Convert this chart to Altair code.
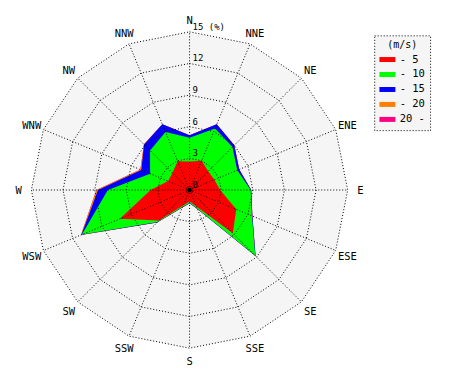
import altair as alt
import pandas as pd

# ---- data ----
directions = ["N", "NNE", "NE", "ENE", "E", "ESE", "SE", "SSE",
              "S", "SSW", "SW", "WSW", "W", "WNW", "NW", "NNW"]
speed_classes = ["- 5", "- 10", "- 15", "- 20", "20 -"]
class_colors = ["#ff0000", "#00ff00", "#0000ff", "#ff8000", "#ff0080"]

# frequency (%) of each speed class per direction
freq_0_5   = [2.7, 3.0, 2.5, 2.55, 2.9, 4.8, 5.8, 1.7, 1.1, 1.6, 4.1, 7.15, 3.7, 2.2, 2.3, 2.96]
freq_5_10  = [2.25, 3.3, 3.25, 2.35, 2.9, 1.6, 3.0, 0.2, 0.1, 0.15, 0.2, 3.9, 4.05, 1.85, 3.0, 2.99]
freq_10_15 = [0.25, 0.44, 0.25, 0.2, 0.05, 0.05, 0.05, 0.05, 0.05, 0.05, 0.05, 0.05, 0.93, 0.9, 0.8, 0.79]
freq_15_20 = [0, 0, 0, 0, 0, 0, 0, 0, 0, 0, 0.02, 0.05, 0.16, 0.1, 0.02, 0.01]
freq_20_up = [0, 0, 0, 0, 0, 0, 0, 0, 0, 0, 0, 0, 0, 0, 0, 0]

ring_levels = [3, 6, 9, 12, 15]
ring_texts = ["3", "6", "9", "12", "15 (%)"]
label_radius = 16.2

FONT = "DejaVu Sans Mono"

# ---- tables ----
rose_rows = []
cum = [0.0] * 16
for cls, freq in zip(speed_classes, [freq_0_5, freq_5_10, freq_10_15, freq_15_20, freq_20_up]):
    cum = [a + b for a, b in zip(cum, freq)]
    for k in range(17):
        rose_rows.append({"cls": cls, "k": k, "dir": k % 16, "r": cum[k % 16]})
rose = pd.DataFrame(rose_rows)

ring_rows = []
for lv in ring_levels:
    for k in range(17):
        ring_rows.append({"level": lv, "k": k, "dir": k % 16, "r": lv})
rings = pd.DataFrame(ring_rows)

spokes = pd.DataFrame({"dir": list(range(16)), "r": [ring_levels[-1]] * 16})
dir_labels = pd.DataFrame({"dir": list(range(16)), "name": directions,
                           "r": [label_radius] * 16})
ring_lab = pd.DataFrame({"dir": [0] * 6, "r": [0] + ring_levels,
                         "text": ["0"] + ring_texts})
center = pd.DataFrame({"dir": [0], "r": [0]})

xscale = alt.Scale(domain=[-17.22, 25.84], nice=False, zero=False)
yscale = alt.Scale(domain=[-17.22, 17.22], nice=False, zero=False)


def polar(ch):
    return (ch.transform_calculate(ang="datum.dir * PI / 8")
              .transform_calculate(px="datum.r * sin(datum.ang)",
                                   py="datum.r * cos(datum.ang)"))


X = alt.X("px:Q", scale=xscale, axis=None)
Y = alt.Y("py:Q", scale=yscale, axis=None)

bg = polar(alt.Chart(rings[rings.level == 15]).mark_line(
    filled=True, color="#f5f5f5", strokeWidth=0)).encode(
    x=X, y=Y, order="k:Q")

legend = alt.Legend(
    title="(m/s)", orient="none", legendX=367, legendY=27,
    symbolType="M-1.6,-0.5H1.6V0.5H-1.6Z", symbolSize=100, symbolStrokeWidth=0,
    labelFont=FONT, labelFontSize=10.5, labelColor="black", labelOffset=7,
    titleFont=FONT, titleFontSize=10, titleFontWeight="normal", titleColor="black",
    titleAnchor="middle", titlePadding=4,
    strokeColor="black", fillColor="#f5f5f5",
    padding=5, rowPadding=4, symbolOffset=3,
    labelExpr="datum.label + '\u00a0\u00a0\u00a0\u00a0\u00a0\u00a0\u00a0'",
)
color = alt.Color("cls:N", scale=alt.Scale(domain=speed_classes, range=class_colors),
                  legend=legend)

rose_layers = []
for cls in reversed(speed_classes):
    rose_layers.append(
        polar(alt.Chart(rose[rose.cls == cls]).mark_line(filled=True, strokeWidth=0))
        .encode(x=X, y=Y, order="k:Q", color=color)
    )

ring_lines = polar(alt.Chart(rings).mark_line(
    color="black", strokeWidth=1, strokeDash=[1, 2])).encode(
    x=X, y=Y, detail="level:N", order="k:Q")

spoke_lines = polar(alt.Chart(spokes).mark_rule(
    color="black", strokeWidth=1, strokeDash=[1, 2])).transform_calculate(
    x0="0", y0="0").encode(
    x=alt.X("x0:Q", scale=xscale, axis=None),
    y=alt.Y("y0:Q", scale=yscale, axis=None),
    x2="px:Q", y2="py:Q")

dir_text = polar(alt.Chart(dir_labels).mark_text(
    font=FONT, fontSize=10.5, color="black", dy=1.5)).encode(
    x=X, y=Y, text="name:N")

ring_text = polar(alt.Chart(ring_lab).mark_text(
    font=FONT, fontSize=9, color="black", align="left", dx=3, dy=-5)).encode(
    x=X, y=Y, text="text:N")

dot = polar(alt.Chart(center).mark_point(
    filled=True, color="black", size=22, opacity=1)).encode(x=X, y=Y)

chart = alt.layer(bg, *rose_layers, ring_lines, spoke_lines, dir_text, ring_text, dot).properties(
    width=455, height=364, padding=0,
    autosize=alt.AutoSizeParams(type="none"),
).configure_view(stroke=None).configure_legend(strokeDash=[1, 2])

chart.save("out.html", embed_options={"renderer": "svg", "actions": False})
